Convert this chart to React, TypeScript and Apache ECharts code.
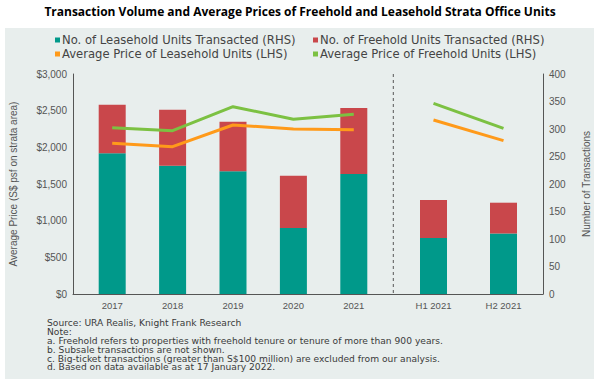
import React, { useEffect, useRef } from "react";
import * as echarts from "echarts";

const titleText = "Transaction Volume and Average Prices of Freehold and Leasehold Strata Office Units";
const years = ["2017", "2018", "2019", "2020", "2021"];
const halves = ["H1 2021", "H2 2021"];
const leaseholdUnitsYears = [256, 233, 223, 120, 218];
const freeholdUnitsYears = [88, 102, 90, 95, 120];
const leaseholdUnitsHalves = [102, 110];
const freeholdUnitsHalves = [69, 56];
const leaseholdPriceYears = [2055, 2009, 2305, 2250, 2241];
const freeholdPriceYears = [2268, 2227, 2554, 2382, 2450];
const leaseholdPriceHalves = [2373, 2091];
const freeholdPriceHalves = [2600, 2259];
const notes = [
  "Source: URA Realis, Knight Frank Research",
  "Note:",
  "a. Freehold refers to properties with freehold tenure or tenure of more than 900 years.",
  "b. Subsale transactions are not shown.",
  "c. Big-ticket transactions (greater than S$100 million) are excluded from our analysis.",
  "d. Based on data available as at 17 January 2022.",
];

const S_LEASE = "No. of Leasehold Units Transacted (RHS)";
const S_FREE = "No. of Freehold Units Transacted (RHS)";
const S_LPRICE = "Average Price of Leasehold Units (LHS)";
const S_FPRICE = "Average Price of Freehold Units (LHS)";

const TEAL = "#00998a";
const RED = "#c9474b";
const ORANGE = "#ff9a1a";
const GREEN = "#7cc142";
const AXIS = "#555555";
const FONT = "'Liberation Sans', Arial, sans-serif";

const TOP = 74;
const H = 220;

export default function App() {
  const ref = useRef<HTMLDivElement>(null);
  useEffect(() => {
    if (!ref.current) return;
    const chart = echarts.init(ref.current, null, { renderer: "svg" });
    const hiddenY = (gi: number, max: number, interval: number) => ({
      type: "value", gridIndex: gi, min: 0, max, interval, show: false,
      splitLine: { show: false },
    });
    const catAxis = (gi: number, data: string[]) => ({
      type: "category", gridIndex: gi, data,
      axisLine: { show: false }, axisTick: { show: false },
      axisLabel: { color: AXIS, fontSize: 9.5, margin: 6, fontFamily: FONT },
    });
    const legend = (name: string, left: number, top: number) => ({
      data: [name], left, top, icon: "rect", itemWidth: 5, itemHeight: 5, itemGap: 4,
      padding: 0,
      textStyle: { color: "#444", fontSize: 11.6, lineHeight: 12, fontFamily: "'DejaVu Sans', sans-serif", padding: [0, 0, 0, -3] },
    });
    const option: any = {
      animation: false,
      backgroundColor: "#ffffff",
      title: {
        text: titleText, left: "center", top: 0,
        textStyle: { fontSize: 12, fontWeight: "bold", color: "#000", fontFamily: "'Open Sans', sans-serif" },
      },
      legend: [
        legend(S_LEASE, 55, 34),
        legend(S_FREE, 313, 34),
        legend(S_LPRICE, 55, 48),
        legend(S_FPRICE, 313, 48),
      ],
      grid: [
        { left: 73, top: TOP, width: 470, height: H },
        { left: 82, top: TOP, width: 302, height: H },
        { left: 398.5, top: TOP, width: 140, height: H },
      ],
      xAxis: [
        {
          type: "value", gridIndex: 0, min: 0, max: 1,
          axisLine: { show: true, lineStyle: { color: AXIS, width: 1 } },
          axisTick: { show: false }, axisLabel: { show: false }, splitLine: { show: false },
        },
        catAxis(1, years),
        catAxis(2, halves),
      ],
      yAxis: [
        {
          type: "value", gridIndex: 0, position: "left", min: 0, max: 3000, interval: 500,
          axisLine: { show: true, lineStyle: { color: AXIS } }, axisTick: { show: false },
          splitLine: { show: false },
          axisLabel: {
            color: AXIS, fontSize: 10, margin: 6, fontFamily: FONT,
            formatter: (v: number) => "$" + v.toLocaleString("en-US"),
          },
          name: "Average Price (S$ psf on strata area)", nameLocation: "middle", nameGap: 55,
          nameTextStyle: { color: AXIS, fontSize: 10, fontFamily: FONT },
        },
        {
          type: "value", gridIndex: 0, position: "right", min: 0, max: 400, interval: 50,
          axisLine: { show: true, lineStyle: { color: AXIS } }, axisTick: { show: false },
          splitLine: { show: false },
          axisLabel: { color: AXIS, fontSize: 10, margin: 6, fontFamily: FONT },
          name: "Number of Transactions", nameLocation: "middle", nameGap: 38,
          nameTextStyle: { color: AXIS, fontSize: 10, fontFamily: FONT },
        },
        hiddenY(1, 3000, 500),
        hiddenY(1, 400, 50),
        hiddenY(2, 3000, 500),
        hiddenY(2, 400, 50),
      ],
      series: [
        { name: S_LEASE, type: "bar", xAxisIndex: 1, yAxisIndex: 3, stack: "y", barWidth: 27, itemStyle: { color: TEAL }, data: leaseholdUnitsYears },
        { name: S_FREE, type: "bar", xAxisIndex: 1, yAxisIndex: 3, stack: "y", barWidth: 27, itemStyle: { color: RED }, data: freeholdUnitsYears },
        { name: S_LEASE, type: "bar", xAxisIndex: 2, yAxisIndex: 5, stack: "h", barWidth: 27, itemStyle: { color: TEAL }, data: leaseholdUnitsHalves },
        { name: S_FREE, type: "bar", xAxisIndex: 2, yAxisIndex: 5, stack: "h", barWidth: 27, itemStyle: { color: RED }, data: freeholdUnitsHalves },
        { name: S_LPRICE, type: "line", xAxisIndex: 1, yAxisIndex: 2, showSymbol: false, symbol: "none", lineStyle: { color: ORANGE, width: 3 }, itemStyle: { color: ORANGE }, data: leaseholdPriceYears },
        { name: S_FPRICE, type: "line", xAxisIndex: 1, yAxisIndex: 2, showSymbol: false, symbol: "none", lineStyle: { color: GREEN, width: 3 }, itemStyle: { color: GREEN }, data: freeholdPriceYears },
        { name: S_LPRICE, type: "line", xAxisIndex: 2, yAxisIndex: 4, showSymbol: false, symbol: "none", lineStyle: { color: ORANGE, width: 3 }, itemStyle: { color: ORANGE }, data: leaseholdPriceHalves },
        { name: S_FPRICE, type: "line", xAxisIndex: 2, yAxisIndex: 4, showSymbol: false, symbol: "none", lineStyle: { color: GREEN, width: 3 }, itemStyle: { color: GREEN }, data: freeholdPriceHalves },
      ],
      graphic: [
        { type: "rect", z: -10, silent: true, shape: { x: 5, y: 28, width: 589, height: 351 }, style: { fill: "#e8eeed" } },
        { type: "line", silent: true, shape: { x1: 393.3, y1: TOP, x2: 393.3, y2: TOP + H }, style: { stroke: AXIS, lineWidth: 1, lineDash: [3, 3] } },
        {
          type: "text", left: 47, top: 318.5, silent: true, scaleX: 1.04,
          style: { text: notes.join("\n"), fontSize: 8.8, lineHeight: 8.9, fill: "#3a3a3a", fontFamily: "'DejaVu Sans', sans-serif" },
        },
      ],
    };
    chart.setOption(option);
    return () => chart.dispose();
  }, []);
  return <div ref={ref} style={{ position: "fixed", left: 0, top: 0, width: 600, height: 383 }} />;
}
